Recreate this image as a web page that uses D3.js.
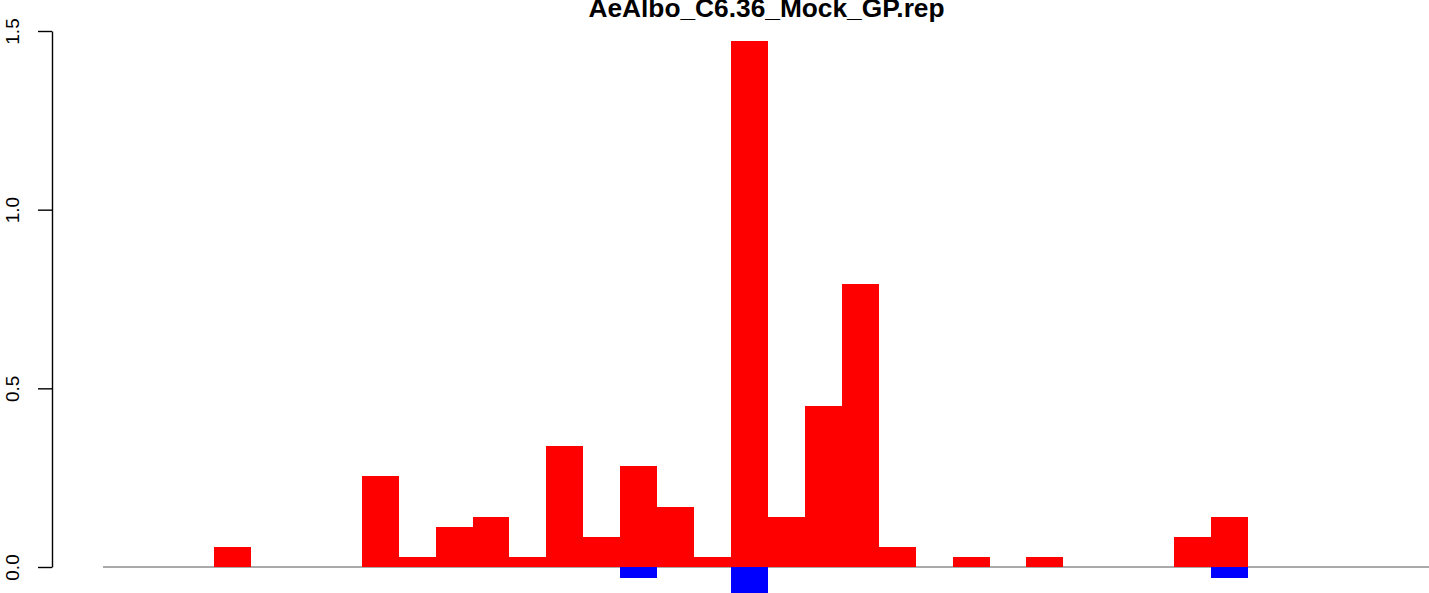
<!DOCTYPE html>
<html lang="en">
  <head>
    <meta charset="UTF-8" />
    <title>AeAlbo_C6.36_Mock_GP.rep</title>
    <script src="https://d3js.org/d3.v7.min.js"></script>
    <style>
      body {
        margin: 0;
        background: #fff;
      }
      svg {
        display: block;
        font-family: "Liberation Sans", Arial, Helvetica, sans-serif;
      }
      .axis path,
      .axis line {
        stroke: #000;
        stroke-width: 1.4;
      }
      .axis text {
        font-size: 19px;
        fill: #000;
      }
      rect {
        shape-rendering: crispEdges;
      }
    </style>
  </head>
  <body>
    <div id="chart"></div>
    <script>
      const title = "AeAlbo_C6.36_Mock_GP.rep";

      // positions along the read (one bar per bin)
      const bins = d3.range(1, 37);

      // positive (red) and negative (blue) values per bin
      const redValues = [
        0, 0, 0, 0.056, 0, 0, 0, 0.255, 0.028, 0.112, 0.14, 0.028, 0.339, 0.084, 0.283, 0.168, 0.028, 1.472,
        0.14, 0.45, 0.792, 0.056, 0, 0.028, 0, 0.028, 0, 0, 0, 0.084, 0.14, 0, 0, 0, 0, 0,
      ];
      const blueValues = [
        0, 0, 0, 0, 0, 0, 0, 0, 0, 0, 0, 0, 0, 0, -0.03, 0, 0, -0.075, 0, 0, 0, 0, 0, 0, 0, 0, 0, 0, 0, 0, -0.03,
        0, 0, 0, 0, 0,
      ];

      const yTicks = [0, 0.5, 1, 1.5];

      const width = 1429;
      const height = 593;

      const svg = d3.select("#chart").append("svg").attr("width", width).attr("height", height);

      const x = d3.scaleBand().domain(bins).range([103.2, 103.2 + 36 * 36.93]).padding(0);
      const y = d3.scaleLinear().domain([0, 1.5]).range([567, 31]);

      // baseline at zero
      svg
        .append("line")
        .attr("x1", 103)
        .attr("x2", width)
        .attr("y1", y(0))
        .attr("y2", y(0))
        .attr("stroke", "#555")
        .attr("stroke-width", 1);

      const rows = bins.map((b, i) => ({ bin: b, red: redValues[i], blue: blueValues[i] }));

      svg
        .selectAll(".red")
        .data(rows.filter((d) => d.red > 0))
        .enter()
        .append("rect")
        .attr("class", "red")
        .attr("x", (d) => x(d.bin))
        .attr("width", x.bandwidth())
        .attr("y", (d) => y(d.red))
        .attr("height", (d) => y(0) - y(d.red))
        .attr("fill", "#ff0000");

      svg
        .selectAll(".blue")
        .data(rows.filter((d) => d.blue < 0))
        .enter()
        .append("rect")
        .attr("class", "blue")
        .attr("x", (d) => x(d.bin))
        .attr("width", x.bandwidth())
        .attr("y", y(0))
        .attr("height", (d) => y(d.blue) - y(0))
        .attr("fill", "#0000ff");

      // y axis, labels rotated like base R
      const yAxis = svg
        .append("g")
        .attr("class", "axis")
        .attr("transform", "translate(52,0)")
        .call(d3.axisLeft(y).tickValues(yTicks).tickFormat(d3.format(".1f")).tickSize(14).tickSizeOuter(0));

      yAxis
        .selectAll(".tick text")
        .attr("transform", "translate(-33,0) rotate(-90)")
        .attr("x", 0)
        .attr("y", 0)
        .attr("dy", 0)
        .attr("text-anchor", "middle");

      svg
        .append("text")
        .attr("x", 766.5)
        .attr("y", 17)
        .attr("text-anchor", "middle")
        .attr("font-weight", "bold")
        .attr("font-size", "26.3px")
        .text(title);
    </script>
  </body>
</html>
